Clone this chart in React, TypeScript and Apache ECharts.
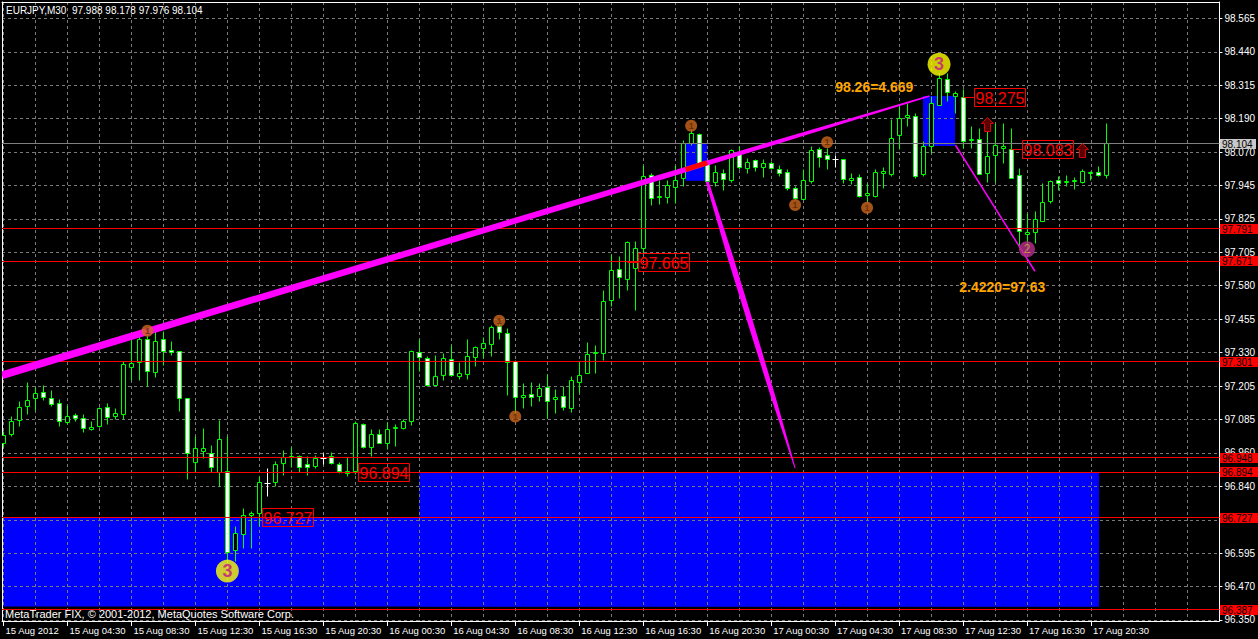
import React, { useEffect, useRef } from "react";
import * as echarts from "echarts";

const symbolName = "EURJPY";
const periodName = "M30";
const copyrightText = "MetaTrader FIX, © 2001-2012, MetaQuotes Software Corp.";

// OHLC of the 30-minute bars, bar 0 = 15 Aug 00:30
const opens = [
  97.000, 97.032, 97.084, 97.135, 97.165, 97.188, 97.166, 97.148, 97.076, 97.103,
  97.092, 97.052, 97.062, 97.133, 97.098, 97.107, 97.279, 97.299, 97.383, 97.262,
  97.381, 97.344, 97.338, 97.166, 96.930, 96.970, 96.963, 96.893, 96.895, 96.605,
  96.663, 96.734, 96.743, 96.853, 96.855, 96.927, 96.948, 96.951, 96.921, 96.914,
  96.945, 96.952, 96.923, 96.891, 96.896, 97.070, 96.986, 97.033, 96.999, 97.055,
  97.055, 97.082, 97.335, 97.313, 97.213, 97.249, 97.308, 97.246, 97.254, 97.316,
  97.349, 97.364, 97.430, 97.405, 97.301, 97.170, 97.181, 97.172, 97.206, 97.162,
  97.172, 97.128, 97.225, 97.258, 97.332, 97.332, 97.528, 97.639, 97.602, 97.645,
  97.719, 97.986, 97.906, 97.906, 97.943, 97.976, 98.105, 98.138, 98.030, 97.960,
  97.995, 97.968, 98.071, 98.013, 98.040, 98.017, 98.032, 98.009, 97.997, 97.940,
  97.899, 97.964, 98.081, 98.062, 98.044, 98.046, 97.970, 97.978, 97.914, 97.911,
  97.995, 97.989, 98.133, 98.201, 98.203, 97.989, 98.095, 98.246, 98.341, 98.279,
  98.275, 98.114, 98.120, 97.995, 98.060, 98.087, 98.083, 97.988, 97.771, 97.776,
  97.819, 97.890, 97.968, 97.961, 97.965, 97.960, 97.995, 97.997, 97.988,
];
const highs = [
  97.043, 97.098, 97.154, 97.226, 97.205, 97.215, 97.194, 97.163, 97.139, 97.111,
  97.105, 97.080, 97.133, 97.148, 97.127, 97.301, 97.381, 97.405, 97.420, 97.411,
  97.411, 97.377, 97.340, 97.167, 97.025, 97.055, 96.993, 97.083, 97.027, 96.696,
  96.761, 96.749, 96.880, 96.908, 96.932, 96.973, 96.986, 96.957, 96.951, 96.954,
  96.963, 96.967, 96.929, 96.949, 97.080, 97.074, 97.052, 97.050, 97.076, 97.068,
  97.090, 97.344, 97.384, 97.319, 97.325, 97.332, 97.360, 97.299, 97.381, 97.356,
  97.391, 97.434, 97.452, 97.424, 97.305, 97.221, 97.225, 97.221, 97.255, 97.200,
  97.211, 97.248, 97.301, 97.372, 97.360, 97.563, 97.694, 97.688, 97.742, 97.743,
  98.022, 97.995, 97.970, 97.970, 98.022, 98.117, 98.154, 98.140, 98.038, 98.025,
  98.007, 98.083, 98.095, 98.050, 98.046, 98.044, 98.038, 98.022, 98.007, 97.946,
  98.007, 98.095, 98.090, 98.087, 98.062, 98.047, 97.995, 97.989, 97.958, 98.007,
  98.017, 98.194, 98.240, 98.250, 98.216, 98.111, 98.277, 98.363, 98.363, 98.295,
  98.302, 98.167, 98.160, 98.191, 98.179, 98.179, 98.160, 98.013, 97.847, 97.853,
  97.958, 97.970, 97.982, 97.985, 97.980, 98.009, 98.001, 98.019, 98.178,
];
const lows = [
  96.986, 97.025, 97.062, 97.105, 97.123, 97.157, 97.135, 97.062, 97.068, 97.081,
  97.040, 97.047, 97.059, 97.071, 97.090, 97.090, 97.233, 97.233, 97.209, 97.242,
  97.286, 97.324, 97.117, 96.869, 96.896, 96.945, 96.892, 96.841, 96.560, 96.565,
  96.614, 96.614, 96.693, 96.806, 96.843, 96.881, 96.911, 96.892, 96.881, 96.908,
  96.921, 96.923, 96.890, 96.880, 96.884, 96.982, 96.951, 96.998, 96.976, 96.990,
  97.050, 97.065, 97.264, 97.209, 97.213, 97.230, 97.246, 97.237, 97.237, 97.283,
  97.313, 97.319, 97.384, 97.178, 97.111, 97.127, 97.135, 97.154, 97.092, 97.111,
  97.120, 97.115, 97.183, 97.256, 97.256, 97.305, 97.504, 97.535, 97.565, 97.489,
  97.700, 97.876, 97.878, 97.884, 97.882, 97.946, 98.097, 98.017, 97.958, 97.946,
  97.933, 97.960, 98.007, 97.995, 98.001, 97.978, 98.007, 97.982, 97.930, 97.897,
  97.897, 97.958, 98.017, 98.007, 98.017, 97.958, 97.955, 97.906, 97.890, 97.906,
  97.940, 97.982, 98.084, 98.167, 97.976, 97.982, 98.068, 98.246, 98.259, 98.216,
  98.087, 98.087, 97.989, 97.960, 97.960, 98.032, 97.976, 97.730, 97.712, 97.737,
  97.817, 97.884, 97.933, 97.945, 97.935, 97.958, 97.970, 97.982, 97.976,
];
const closes = [
  97.031, 97.082, 97.133, 97.160, 97.184, 97.170, 97.144, 97.080, 97.100, 97.092,
  97.055, 97.060, 97.129, 97.096, 97.111, 97.291, 97.295, 97.381, 97.264, 97.377,
  97.339, 97.335, 97.165, 96.963, 96.982, 96.982, 96.911, 97.013, 96.599, 96.669,
  96.733, 96.743, 96.857, 96.853, 96.924, 96.949, 96.952, 96.912, 96.912, 96.946,
  96.945, 96.927, 96.896, 96.896, 97.074, 96.986, 97.033, 97.000, 97.052, 97.060,
  97.082, 97.338, 97.317, 97.215, 97.246, 97.313, 97.249, 97.258, 97.319, 97.354,
  97.368, 97.427, 97.409, 97.299, 97.170, 97.177, 97.170, 97.203, 97.154, 97.170,
  97.133, 97.233, 97.251, 97.329, 97.335, 97.522, 97.635, 97.612, 97.740, 97.716,
  97.982, 97.903, 97.911, 97.948, 97.970, 98.103, 98.142, 98.032, 97.964, 97.998,
  97.973, 98.077, 98.017, 98.035, 98.017, 98.032, 98.013, 97.995, 97.937, 97.903,
  97.970, 98.077, 98.054, 98.046, 98.044, 97.973, 97.974, 97.909, 97.919, 97.998,
  98.003, 98.124, 98.197, 98.208, 97.982, 98.095, 98.252, 98.342, 98.293, 98.289,
  98.111, 98.119, 97.991, 98.056, 98.097, 98.093, 97.976, 97.780, 97.776, 97.825,
  97.888, 97.966, 97.958, 97.966, 97.970, 98.001, 97.998, 97.985, 98.104,
];

// time axis
const timeLabels = [
  "15 Aug 2012", "15 Aug 04:30", "15 Aug 08:30", "15 Aug 12:30", "15 Aug 16:30", "15 Aug 20:30",
  "16 Aug 00:30", "16 Aug 04:30", "16 Aug 08:30", "16 Aug 12:30", "16 Aug 16:30", "16 Aug 20:30",
  "17 Aug 00:30", "17 Aug 04:30", "17 Aug 08:30", "17 Aug 12:30", "17 Aug 16:30", "17 Aug 20:30",
];
const labelBars = [0, 8, 16, 24, 32, 40, 48, 56, 64, 72, 80, 88, 96, 104, 112, 120, 128, 136];
const gridBars = [
  0, 4, 8, 12, 16, 20, 24, 28, 32, 36, 40, 44, 48, 52, 56, 60, 64, 68, 72, 76,
  80, 84, 88, 92, 96, 100, 104, 108, 112, 116, 120, 124, 128, 132, 136, 140, 144, 148, 152,
];

// price axis
const yTickValues = [
  96.350, 96.473, 96.596, 96.719, 96.842, 96.965, 97.088, 97.211, 97.334, 97.457,
  97.581, 97.704, 97.827, 97.950, 98.073, 98.196, 98.319, 98.442, 98.565,
];
const yTickLabels = [
  "96.350", "96.470", "96.595", "96.715", "96.840", "96.960", "97.085", "97.205", "97.330", "97.455",
  "97.580", "97.705", "97.825", "97.945", "98.070", "98.190", "98.315", "98.440", "98.565",
];

// horizontal lines
const redLevels = [97.791, 97.671, 97.301, 96.948, 96.894, 96.727, 96.387];
const bidLevel = 98.104;

// rectangles [barFrom, priceLow, barTo, priceHigh]
const blueRects = [
  [-0.19, 96.40, 137, 96.727],
  [52, 96.40, 137, 96.894],
  [85.3, 97.967, 88, 98.105],
  [115, 98.095, 119, 98.279],
];

// trend lines [bar1, price1, bar2, price2]
const trendLines = [
  [-0.19, 97.251, 115.8, 98.279],
  [88, 97.964, 99, 96.909],
  [119.06, 98.098, 129, 97.634],
  [85.3, 98.008, 88, 98.034],
];

// price tags [bar, price]
const priceTags = [
  [43, 96.894],
  [31, 96.727],
  [78, 97.665],
  [120, 98.275],
  [126, 98.083],
];
const upArrows = [
  [123, 98.174],
  [135, 98.079],
];
const marks1 = [
  [18, 97.415], [62, 97.452], [64, 97.099], [86, 98.170], [99, 97.878], [103, 98.109], [108, 97.868],
];
const marks3 = [
  [28, 96.530], [117, 98.396],
];
const marks2 = [
  [128, 97.715],
];
const noteBars = [108.9, 124.9];
const notePrices = [98.314, 97.575];
const noteTexts = ["98.26=4.669", "2.4220=97.63"];

const FONT = "'Liberation Sans', Arial, sans-serif";
const AX_FS = 9.5;
const X_MIN = -0.1875;
const X_MAX = 152.0625;
const Y_MIN = 96.3463;
const Y_MAX = 98.6254;

const lineStyles = [
  { color: "#ff00ff", stops: [[0, 7.5], [0.72, 5.5], [1, 1.5]] },
  { color: "#ff00ff", stops: [[0, 3], [0.27, 5.7], [0.5, 5.4], [0.75, 4.5], [1, 1]] },
  { color: "#ff00ff", stops: [[0, 1.5], [1, 1.5]] },
  { color: "#ff0000", stops: [[0, 5], [1, 5]] },
];

function buildOption() {
  const n = opens.length;
  const candleData = opens.map((o, i) => [i, o, highs[i], lows[i], closes[i]]);
  const header = `${symbolName},${periodName}  ${opens[n - 1].toFixed(3)} ${highs[n - 1].toFixed(3)} ${lows[n - 1].toFixed(3)} ${closes[n - 1].toFixed(3)}`;
  const snap = (v: number) => Math.round(v - 0.5) + 0.5;

  const yFmt = (v: number) => {
    let best = 0;
    for (let k = 0; k < yTickValues.length; k++) {
      if (Math.abs(v - yTickValues[k]) < Math.abs(v - yTickValues[best])) best = k;
    }
    return yTickLabels[best];
  };

  const levelData = redLevels.map((v) => [v, 0]).concat([[bidLevel, 1]]);

  return {
    animation: false,
    backgroundColor: "#000000",
    grid: { left: 2, top: 2, width: 1218, height: 619, show: false },
    xAxis: [
      {
        type: "value",
        min: X_MIN,
        max: X_MAX,
        position: "bottom",
        axisLine: { show: true, onZero: false, lineStyle: { color: "#ffffff", width: 1 } },
        axisTick: { show: true, length: 5, customValues: labelBars, lineStyle: { color: "#ffffff" } },
        axisLabel: {
          show: true,
          customValues: labelBars,
          formatter: (v: number) => timeLabels[labelBars.indexOf(Math.round(v))] ?? "",
          color: "#ffffff",
          fontSize: AX_FS,
          fontFamily: FONT,
          align: "left",
          margin: 4,
          padding: [0, 0, 0, 2],
          hideOverlap: false,
        },
        splitLine: { show: false },
      },
      {
        type: "value",
        min: X_MIN,
        max: X_MAX,
        position: "top",
        axisLine: { show: true, onZero: false, lineStyle: { color: "#ffffff", width: 1 } },
        axisTick: { show: false, customValues: gridBars },
        axisLabel: { show: false },
        splitLine: { show: true, lineStyle: { color: "#7a7a7a", width: 1, type: [3, 3] } },
      },
    ],
    yAxis: [
      {
        type: "value",
        min: Y_MIN,
        max: Y_MAX,
        position: "right",
        axisLine: { show: true, onZero: false, lineStyle: { color: "#ffffff", width: 1 } },
        axisTick: { show: true, length: 3, customValues: yTickValues, lineStyle: { color: "#ffffff" } },
        axisLabel: {
          show: true,
          customValues: yTickValues,
          formatter: yFmt,
          color: "#ffffff",
          fontSize: AX_FS + 0.5,
          fontFamily: FONT,
          margin: 5,
        },
        splitLine: { show: true, lineStyle: { color: "#7a7a7a", width: 1, type: [3, 3] } },
      },
      {
        type: "value",
        min: Y_MIN,
        max: Y_MAX,
        position: "left",
        axisLine: { show: true, onZero: false, lineStyle: { color: "#ffffff", width: 1 } },
        axisTick: { show: false },
        axisLabel: { show: false },
        splitLine: { show: false },
      },
    ],
    graphic: [
      { type: "text", left: 6, top: 5, z: 10, style: { text: header, fill: "#ffffff", font: `${AX_FS + 0.5}px ${FONT}` } },
      { type: "text", left: 5, top: 608, z: 10, style: { text: copyrightText, fill: "#ffffff", font: `11px ${FONT}` } },
    ],
    series: [
      {
        name: "rects",
        type: "custom",
        z: -1,
        silent: true,
        clip: true,
        data: blueRects,
        encode: { x: [0, 2], y: [1, 3] },
        renderItem: (params: any, api: any) => {
          const a = api.coord([api.value(0), api.value(1)]);
          const b = api.coord([api.value(2), api.value(3)]);
          return {
            type: "rect",
            shape: {
              x: Math.min(a[0], b[0]),
              y: Math.min(a[1], b[1]),
              width: Math.abs(b[0] - a[0]),
              height: Math.abs(b[1] - a[1]),
            },
            style: { fill: "#0000ff" },
          };
        },
      },
      {
        name: "candles",
        type: "custom",
        z: 2,
        silent: true,
        clip: true,
        data: candleData,
        encode: { x: 0, y: [1, 2, 3, 4] },
        renderItem: (params: any, api: any) => {
          const i = api.value(0);
          const o = api.value(1);
          const h = api.value(2);
          const l = api.value(3);
          const c = api.value(4);
          const po = api.coord([i, o]);
          const x = snap(po[0]);
          const yo = po[1];
          const yc = api.coord([i, c])[1];
          const yh = snap(api.coord([i, h])[1]);
          const yl = snap(api.coord([i, l])[1]);
          if (o === c) {
            const y = snap(yo);
            return {
              type: "group",
              children: [
                { type: "line", shape: { x1: x, y1: yh, x2: x, y2: yl }, style: { stroke: "#ffffff", lineWidth: 1 } },
                { type: "line", shape: { x1: x - 3, y1: y, x2: x + 3, y2: y }, style: { stroke: "#ffffff", lineWidth: 1 } },
              ],
            };
          }
          const top = snap(Math.min(yo, yc));
          let bot = snap(Math.max(yo, yc));
          if (bot - top < 1) bot = top + 1;
          const bull = c > o;
          return {
            type: "group",
            children: [
              { type: "line", shape: { x1: x, y1: yh, x2: x, y2: yl }, style: { stroke: "#00ff00", lineWidth: 1 } },
              {
                type: "rect",
                shape: { x: x - 2, y: top, width: 4, height: bot - top },
                style: { fill: bull ? "#000000" : "#ffffff", stroke: "#00ff00", lineWidth: 1 },
              },
            ],
          };
        },
      },
      {
        name: "levels",
        type: "custom",
        z: 3,
        silent: true,
        clip: false,
        data: levelData,
        encode: { y: 0 },
        renderItem: (params: any, api: any) => {
          const v = api.value(0);
          const isBid = api.value(1) === 1;
          const a = api.coord([X_MIN, v]);
          const b = api.coord([X_MAX, v]);
          const y = snap(a[1]);
          const color = isBid ? "#808080" : "#ff0000";
          const bx = Math.round(b[0]) + 1;
          return {
            type: "group",
            children: [
              { type: "line", shape: { x1: a[0], y1: y, x2: b[0], y2: y }, style: { stroke: color, lineWidth: 1 } },
              {
                type: "rect",
                shape: { x: bx, y: Math.round(a[1]) - 5, width: isBid ? 36 : 38, height: 10 },
                style: { fill: isBid ? "#c8c8c8" : "#ff0000" },
              },
              {
                type: "text",
                x: bx + 2,
                y: Math.round(a[1]) + 0.5,
                style: {
                  text: v.toFixed(3),
                  fill: "#000000",
                  font: `${AX_FS + 0.5}px ${FONT}`,
                  align: "left",
                  verticalAlign: "middle",
                },
              },
            ],
          };
        },
      },
      {
        name: "trendlines",
        type: "custom",
        z: 4,
        silent: true,
        clip: true,
        data: trendLines,
        encode: { x: [0, 2], y: [1, 3] },
        renderItem: (params: any, api: any) => {
          const st = lineStyles[params.dataIndex];
          const p1 = api.coord([api.value(0), api.value(1)]);
          const p2 = api.coord([api.value(2), api.value(3)]);
          const dx = p2[0] - p1[0];
          const dy = p2[1] - p1[1];
          const len = Math.hypot(dx, dy) || 1;
          const nx = -dy / len;
          const ny = dx / len;
          const left: number[][] = [];
          const right: number[][] = [];
          st.stops.forEach(([t, w]) => {
            const px = p1[0] + dx * t;
            const py = p1[1] + dy * t;
            left.push([px + (nx * w) / 2, py + (ny * w) / 2]);
            right.push([px - (nx * w) / 2, py - (ny * w) / 2]);
          });
          return {
            type: "polygon",
            shape: { points: left.concat(right.reverse()) },
            style: { fill: st.color },
          };
        },
      },
      {
        name: "tags",
        type: "custom",
        z: 5,
        silent: true,
        data: priceTags,
        encode: { x: 0, y: 1 },
        renderItem: (params: any, api: any) => {
          const price = api.value(1);
          const p = api.coord([api.value(0), price]);
          const x = snap(p[0]);
          const y = snap(p[1]);
          const bx = x + 11;
          return {
            type: "group",
            children: [
              { type: "line", shape: { x1: x, y1: y, x2: bx, y2: y }, style: { stroke: "#ff0000", lineWidth: 1 } },
              { type: "rect", shape: { x: bx, y: y - 9, width: 51, height: 18 }, style: { fill: "rgba(0,0,0,0)", stroke: "#ff0000", lineWidth: 1 } },
              {
                type: "text",
                x: bx + 25.5,
                y: y + 0.5,
                style: { text: price.toFixed(3), fill: "#ff0000", font: `16px ${FONT}`, align: "center", verticalAlign: "middle" },
              },
            ],
          };
        },
      },
      {
        name: "arrows",
        type: "custom",
        z: 5,
        silent: true,
        data: upArrows,
        encode: { x: 0, y: 1 },
        renderItem: (params: any, api: any) => {
          const p = api.coord([api.value(0), api.value(1)]);
          const x = snap(p[0]);
          const y = snap(p[1]);
          return {
            type: "polygon",
            shape: {
              points: [
                [x, y - 7], [x + 6, y - 1], [x + 3, y - 1], [x + 3, y + 7],
                [x - 3, y + 7], [x - 3, y - 1], [x - 6, y - 1],
              ],
            },
            style: { fill: "#5a0000", stroke: "#e00000", lineWidth: 1 },
          };
        },
      },
      {
        name: "notes",
        type: "custom",
        z: 5,
        silent: true,
        data: noteBars.map((b, k) => [b, notePrices[k]]),
        encode: { x: 0, y: 1 },
        renderItem: (params: any, api: any) => {
          const p = api.coord([api.value(0), api.value(1)]);
          return {
            type: "text",
            x: p[0],
            y: p[1],
            style: {
              text: noteTexts[params.dataIndex],
              fill: "#ffa500",
              font: `bold 14px ${FONT}`,
              align: "center",
              verticalAlign: "middle",
            },
          };
        },
      },
      {
        name: "m1",
        type: "scatter",
        z: 6,
        silent: true,
        symbol: "circle",
        symbolSize: 12,
        data: marks1,
        itemStyle: { color: "#cd661d" },
        label: { show: true, position: "inside", formatter: "1", color: "#5a2800", fontSize: 9, fontWeight: "bold", fontFamily: FONT },
      },
      {
        name: "m3",
        type: "scatter",
        z: 6,
        silent: true,
        symbol: "circle",
        symbolSize: 23,
        data: marks3,
        itemStyle: { color: "#ffff00" },
        label: { show: true, position: "inside", formatter: "3", color: "#c71585", fontSize: 18, fontWeight: "bold", fontFamily: FONT },
      },
      {
        name: "m2",
        type: "scatter",
        z: 6,
        silent: true,
        symbol: "circle",
        symbolSize: 16,
        data: marks2,
        itemStyle: { color: "#b8308c" },
        label: { show: true, position: "inside", formatter: "2", color: "#d4a040", fontSize: 12, fontFamily: FONT },
      },
    ],
  };
}

export default function App() {
  const ref = useRef<HTMLDivElement>(null);
  useEffect(() => {
    document.body.style.margin = "0";
    document.body.style.background = "#000000";
    const chart = echarts.init(ref.current as HTMLDivElement, null, { renderer: "svg" });
    chart.setOption(buildOption() as any);
    return () => chart.dispose();
  }, []);
  return <div ref={ref} style={{ width: 1258, height: 639, background: "#000000" }} />;
}
